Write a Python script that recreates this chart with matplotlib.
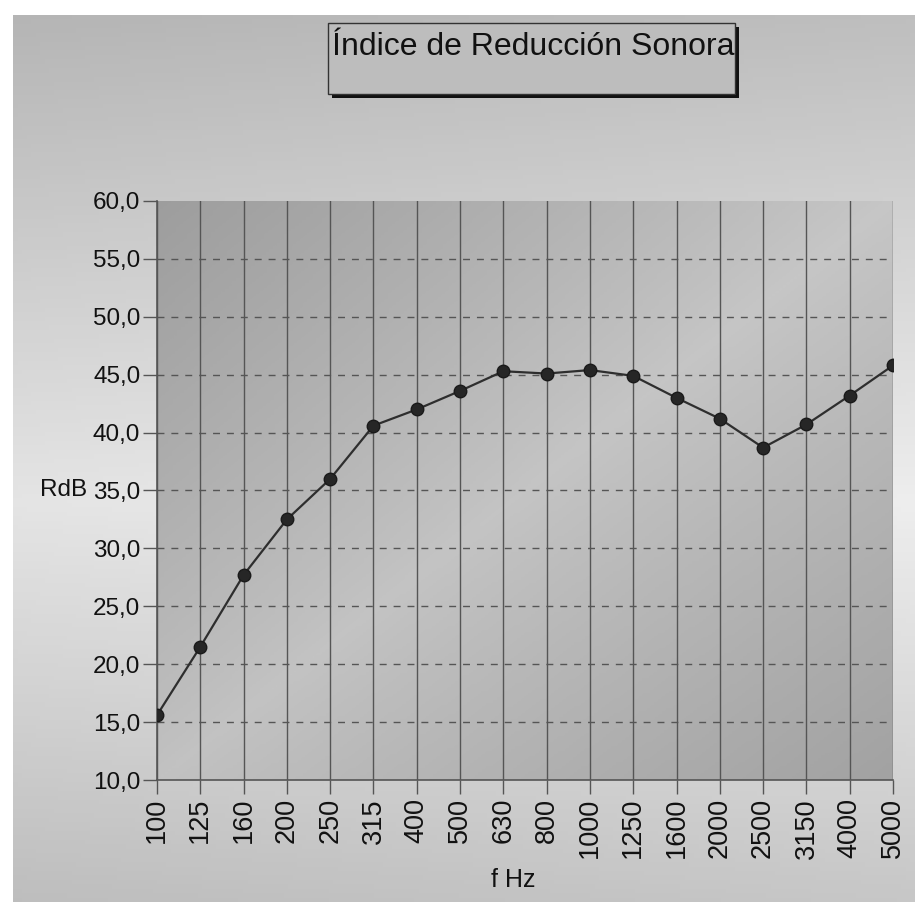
import numpy as np
import matplotlib
matplotlib.use("Agg")
import matplotlib.pyplot as plt
from matplotlib.patches import Rectangle
from matplotlib.colors import LinearSegmentedColormap

plt.rcParams["font.family"] = ["Liberation Sans", "DejaVu Sans"]

# datos
frecuencias = ["100", "125", "160", "200", "250", "315", "400", "500", "630",
               "800", "1000", "1250", "1600", "2000", "2500", "3150", "4000", "5000"]
r_db = [15.6, 21.5, 27.7, 32.5, 36.0, 40.6, 42.0, 43.6, 45.3,
        45.1, 45.4, 44.9, 43.0, 41.2, 38.7, 40.7, 43.2, 45.8]
y_ticks = [10, 15, 20, 25, 30, 35, 40, 45, 50, 55, 60]

W, H = 915, 902
fig = plt.figure(figsize=(W / 100, H / 100), dpi=100)
fig.patch.set_facecolor("white")

grays = LinearSegmentedColormap.from_list("g", ["#808080", "#f2f2f2"])

# fondo exterior: claro en el centro vertical, gris arriba y abajo
bg = fig.add_axes([13 / W, 0, 1 - 13 / W, 1 - 15 / H])
bg.set_axis_off()
yy, xx = np.mgrid[0:1:200j, 0:1:200j]
outer = 0.88 - 0.75 * np.abs(yy - 0.45) + 0.08 * xx
outer = np.clip(outer, 0, 1)
bg.imshow(outer, cmap=grays, vmin=0, vmax=1, aspect="auto",
          extent=[0, 1, 0, 1], origin="lower")
bg.set_xlim(0, 1)
bg.set_ylim(0, 1)

# area del grafico
left, right, top, bottom = 157, 893, 201, 780
ax = fig.add_axes([left / W, 1 - bottom / H, (right - left) / W, (bottom - top) / H])
x = np.arange(len(frecuencias))

# degradado diagonal: oscuro arriba-izquierda y abajo-derecha
inner = 0.58 - 0.32 * np.abs(xx - yy) ** 0.9 + 0.04 * xx
inner = np.clip(inner, 0, 1)
ax.imshow(inner, cmap=grays, vmin=0, vmax=1, aspect="auto",
          extent=[0, len(frecuencias) - 1, 10, 60], origin="lower", zorder=0)

for xi in x:
    ax.axvline(xi, color="#555555", lw=1.0, zorder=1)
for yt in y_ticks[1:-1]:
    ax.axhline(yt, color="#555555", lw=1.0, ls=(0, (5, 5)), zorder=1)

ax.plot(x, r_db, color="#2e2e2e", lw=1.6, marker="o", ms=9,
        markerfacecolor="#262626", markeredgecolor="#1a1a1a", zorder=3)

ax.set_xlim(0, len(frecuencias) - 1)
ax.set_ylim(10, 60)
ax.set_xticks(x)
ax.set_xticklabels(frecuencias, rotation=90, fontsize=19.5, color="#111111")
ax.set_yticks(y_ticks)
ax.set_yticklabels([f"{v},0" for v in y_ticks], fontsize=17.5, color="#111111")
ax.tick_params(axis="both", direction="out", length=10, width=1, color="#555555")
ax.tick_params(axis="x", pad=3)
ax.tick_params(axis="y", pad=2)
for s in ["top", "right"]:
    ax.spines[s].set_visible(False)
for s in ["left", "bottom"]:
    ax.spines[s].set_color("#555555")
    ax.spines[s].set_linewidth(1.2)

fig.text(87 / W, 1 - 490 / H, "RdB", fontsize=17.5, color="#111111",
         ha="right", va="center")
fig.text(513 / W, 1 - 880 / H, "f Hz", fontsize=18, color="#111111",
         ha="center", va="center")

# caja del titulo con sombra
bx0, bx1, by0, by1 = 328, 735, 23, 94
fig.patches.append(Rectangle(((bx0 + 4) / W, 1 - (by1 + 4) / H), (bx1 - bx0) / W,
                             (by1 - by0) / H, transform=fig.transFigure,
                             facecolor="#111111", edgecolor="none", zorder=1))
fig.patches.append(Rectangle((bx0 / W, 1 - by1 / H), (bx1 - bx0) / W,
                             (by1 - by0) / H, transform=fig.transFigure,
                             facecolor="#bdbdbd", edgecolor="#333333", lw=1, zorder=2))
fig.text(533 / W, 1 - 47 / H, "Índice de Reducción Sonora",
         fontsize=23, color="#111111", ha="center", va="center", zorder=3)

fig.savefig("out.png", dpi=100)
